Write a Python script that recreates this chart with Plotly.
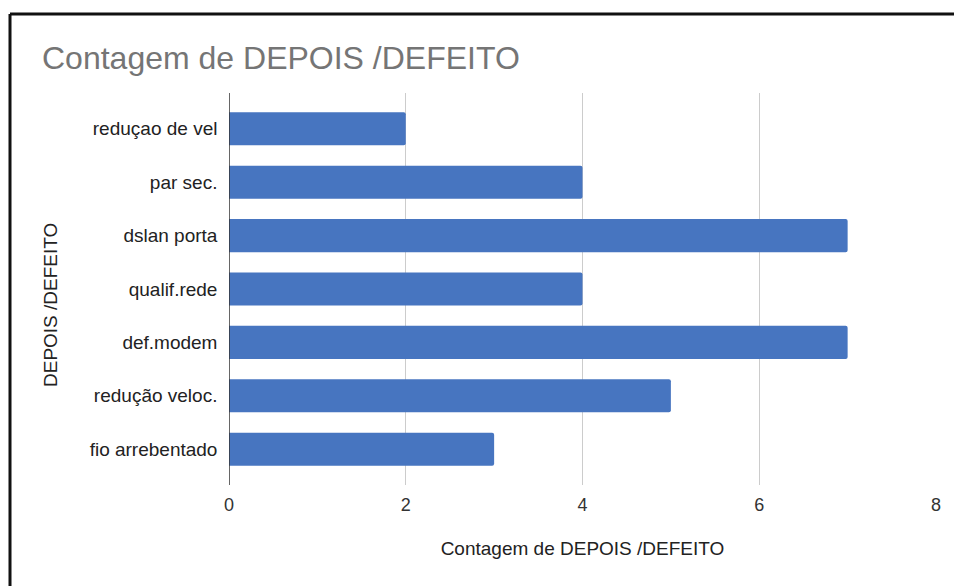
import plotly.graph_objects as go

categories = ["reduçao de vel", "par sec.", "dslan porta", "qualif.rede",
              "def.modem", "redução veloc.", "fio arrebentado"]
counts = [2, 4, 7, 4, 7, 5, 3]
x_ticks = [0, 2, 4, 6, 8]

title_text = "Contagem de DEPOIS /DEFEITO"
x_title = "Contagem de DEPOIS /DEFEITO"
y_title = "DEPOIS /DEFEITO"

W, H = 954, 586
L, R, T, B = 229, 18, 93, 101
pw, ph = W - L - R, H - T - B

fig = go.Figure(go.Bar(
    x=counts, y=categories, orientation="h",
    marker=dict(color="#4775c0", line=dict(width=0), cornerradius=2),
    width=0.62,
))

font = "Arial, Liberation Sans, sans-serif"

fx = lambda px: (px - L) / pw
fy = lambda py: (H - B - py) / ph

fig.update_layout(
    width=W, height=H,
    margin=dict(l=L, r=R, t=T, b=B),
    paper_bgcolor="white", plot_bgcolor="white",
    showlegend=False,
    font=dict(family=font, color="#222222", size=19),
    title=dict(text=title_text, x=(42) / W, xanchor="left",
               y=1 - 58 / H, yanchor="middle",
               font=dict(size=32, color="#757575", family=font)),
    xaxis=dict(range=[0, 8], tickvals=x_ticks, showgrid=True,
               gridcolor="#cccccc", gridwidth=1, zeroline=False,
               showline=False, ticks="", ticklabelstandoff=7,
               tickfont=dict(size=18, color="#333333"),
               title=dict(text=x_title, standoff=27,
                          font=dict(size=19, color="#222222"))),
    yaxis=dict(type="category", categoryarray=categories,
               range=[6.67, -0.67], showgrid=False, zeroline=False,
               showline=False, ticks="", ticksuffix="  ",
               tickfont=dict(size=19, color="#222222")),
)

# y axis title (placed slightly below plot centre, as in the reference)
fig.add_annotation(text=y_title, xref="paper", yref="paper",
                   x=fx(50), y=fy(305), xanchor="center", yanchor="middle",
                   textangle=-90, showarrow=False,
                   font=dict(size=19, color="#222222", family=font))

# y axis baseline at x=0
fig.add_shape(type="line", xref="x", yref="paper", x0=0, x1=0, y0=0, y1=1,
              line=dict(color="#333333", width=1.5))

# outer frame lines (top and left) from the scanned page
fig.add_shape(type="line", xref="paper", yref="paper",
              x0=fx(10), x1=fx(W + 5), y0=fy(14), y1=fy(14),
              line=dict(color="#111111", width=3))
fig.add_shape(type="line", xref="paper", yref="paper",
              x0=fx(10), x1=fx(10), y0=fy(14), y1=fy(H + 5),
              line=dict(color="#111111", width=3))

fig.write_html("out.html")
